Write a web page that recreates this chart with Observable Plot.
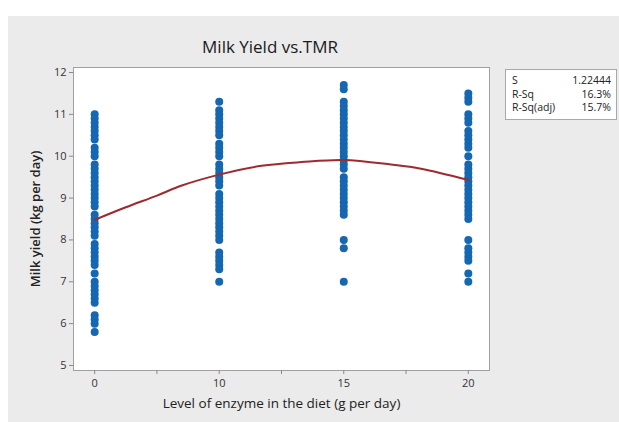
<!DOCTYPE html>
<html>
<head>
<meta charset="utf-8">
<script src="https://cdn.jsdelivr.net/npm/d3@7"></script>
<script src="https://cdn.jsdelivr.net/npm/@observablehq/plot@0.6"></script>
<style>
  html, body { margin: 0; padding: 0; background: #ffffff; }
  #panel { position: absolute; left: 8px; top: 16px; width: 611px; height: 406px; background: #ebebeb; overflow: hidden; }
  #title { position: absolute; left: 0; width: 524px; top: 19px; text-align: center; font-family: "Open Sans", sans-serif; font-size: 17px; color: #1a1a1a; }
  #stats { position: absolute; left: 497px; top: 53px; width: 112px; background: #fff; border: 1px solid #a8a8a8; font-family: "Open Sans", sans-serif; font-size: 10.5px; color: #222; padding: 4px 5px 4px 6px; box-sizing: border-box; line-height: 13.5px; }
  #stats .row { display: flex; justify-content: space-between; }
  #chart { position: absolute; left: 0; top: 0; }
</style>
</head>
<body>
<div id="panel">
  <div id="chart"></div>
  <div id="title"></div>
  <div id="stats"></div>
</div>
<script>
// ---- data ----
const titleText = "Milk Yield vs.TMR";
const xLabel = "Level of enzyme in the diet (g per day)";
const yLabel = "Milk yield (kg per day)";
const levels = ["0", "10", "15", "20"]; // enzyme levels (evenly spaced on the axis)
const yTicks = [5, 6, 7, 8, 9, 10, 11, 12];

const yield0 = [11.0, 10.9, 10.8, 10.7, 10.6, 10.5, 10.4, 10.2, 10.1, 10.0, 9.8, 9.7, 9.6, 9.5, 9.4, 9.3, 9.2, 9.1, 9.0, 8.9, 8.8,
  8.6, 8.5, 8.4, 8.3, 8.2, 8.1, 7.9, 7.8, 7.7, 7.6, 7.5, 7.4, 7.2, 7.0, 6.9, 6.8, 6.7, 6.6, 6.5, 6.2, 6.1, 6.0, 5.8];
const yield10 = [11.3, 11.1, 11.0, 10.9, 10.8, 10.7, 10.6, 10.5, 10.3, 10.2, 10.1, 10.0, 9.8, 9.7, 9.6, 9.5, 9.4, 9.3,
  9.1, 9.0, 8.9, 8.8, 8.7, 8.6, 8.5, 8.4, 8.3, 8.2, 8.1, 8.0, 7.7, 7.6, 7.5, 7.4, 7.3, 7.0];
const yield15 = [11.7, 11.6, 11.3, 11.2, 11.1, 11.0, 10.9, 10.8, 10.7, 10.6, 10.5, 10.4, 10.3, 10.2, 10.1, 10.0, 9.9, 9.8, 9.7,
  9.5, 9.4, 9.3, 9.2, 9.1, 9.0, 8.9, 8.8, 8.7, 8.6, 8.0, 7.8, 7.0];
const yield20 = [11.5, 11.4, 11.3, 11.0, 10.9, 10.8, 10.6, 10.5, 10.4, 10.3, 10.2, 10.0, 9.8, 9.7, 9.6, 9.5, 9.4, 9.3, 9.2,
  9.1, 9.0, 8.9, 8.8, 8.7, 8.6, 8.5, 8.0, 7.8, 7.7, 7.6, 7.5, 7.2, 7.0];

// fitted (quadratic) curve, at axis positions 0..3
const fitPos = [0, 0.25, 0.5, 0.7, 1, 1.34, 1.66, 2, 2.38, 2.62, 3];
const fitYield = [8.48, 8.78, 9.06, 9.30, 9.56, 9.77, 9.86, 9.91, 9.80, 9.70, 9.43];

const statNames = ["S", "R-Sq", "R-Sq(adj)"];
const statValues = ["1.22444", "16.3%", "15.7%"];

// ---- build ----
const groups = [yield0, yield10, yield15, yield20];
const points = groups.flatMap((g, i) => g.map(v => ({pos: i, y: v})));
const fit = fitPos.map((p, i) => ({pos: p, y: fitYield[i]}));

document.getElementById("title").textContent = titleText;
const stats = document.getElementById("stats");
statNames.forEach((n, i) => {
  const r = document.createElement("div");
  r.className = "row";
  const a = document.createElement("span"); a.textContent = n;
  const b = document.createElement("span"); b.textContent = statValues[i];
  r.append(a, b);
  stats.append(r);
});

const chart = Plot.plot({
  width: 611,
  height: 406,
  marginLeft: 65,
  marginRight: 130,
  marginTop: 51,
  marginBottom: 52,
  style: {background: "transparent", fontFamily: "Open Sans, sans-serif", fontSize: "11px", color: "#333"},
  x: {domain: [-0.17, 3.17]},
  y: {domain: [4.88, 12.12]},
  marks: [
    Plot.rect([0], {x1: -0.17, x2: 3.17, y1: 4.88, y2: 12.12, fill: "white"}),
    Plot.frame({stroke: "#a0a0a0"}),
    Plot.axisY({ticks: yTicks, tickSize: 4, tickPadding: 3, stroke: "#888", label: null}),
    Plot.axisX({ticks: [0, 1, 2, 3], tickFormat: i => levels[i], tickSize: 4, tickPadding: 5, stroke: "#888", label: null}),
    Plot.axisX({ticks: [0.5, 1.5, 2.5], tickFormat: () => "", tickSize: 4, stroke: "#888", label: null}),
    Plot.text([xLabel], {frameAnchor: "bottom", dy: 37, fontSize: 13.5, fill: "#222"}),
    Plot.text([yLabel], {frameAnchor: "left", textAnchor: "middle", dx: -38, rotate: -90, fontSize: 13, fontWeight: 600, fill: "#222"}),
    Plot.dot(points, {x: "pos", y: "y", r: 4, fill: "#1467b0", stroke: "none"}),
    Plot.line(fit, {x: "pos", y: "y", stroke: "#9e2a2f", strokeWidth: 2, curve: "catmull-rom"})
  ]
});
document.getElementById("chart").append(chart);
</script>
</body>
</html>
